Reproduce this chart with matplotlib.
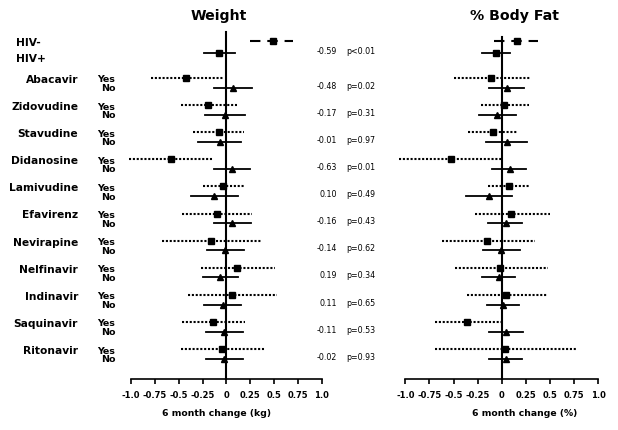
import matplotlib
matplotlib.use("Agg")
import matplotlib.pyplot as plt

# ---------------- data ----------------
drugs = ["Abacavir", "Zidovudine", "Stavudine", "Didanosine", "Lamivudine",
         "Efavirenz", "Nevirapine", "Nelfinavir", "Indinavir", "Saquinavir", "Ritonavir"]

# Weight (kg): HIV- / HIV+ (estimate, low, high)
w_hivneg = (0.49, 0.25, 0.70)
w_hivpos = (-0.08, -0.23, 0.09)
w_yes_est = [-0.42, -0.19, -0.08, -0.58, -0.04, -0.10, -0.16, 0.11, 0.06, -0.14, -0.05]
w_yes_lo = [-0.79, -0.48, -0.35, -1.02, -0.25, -0.46, -0.67, -0.27, -0.40, -0.46, -0.48]
w_yes_hi = [-0.04, 0.11, 0.18, -0.14, 0.18, 0.27, 0.37, 0.51, 0.53, 0.20, 0.41]
w_no_est = [0.07, -0.01, -0.07, 0.06, -0.13, 0.06, -0.01, -0.07, -0.04, -0.02, -0.02]
w_no_lo = [-0.13, -0.22, -0.30, -0.13, -0.37, -0.13, -0.20, -0.25, -0.23, -0.21, -0.21]
w_no_hi = [0.27, 0.20, 0.15, 0.25, 0.12, 0.26, 0.18, 0.12, 0.15, 0.17, 0.17]

# % Body fat
f_hivneg = (0.16, -0.08, 0.37)
f_hivpos = (-0.06, -0.21, 0.09)
f_yes_est = [-0.11, 0.02, -0.09, -0.53, 0.07, 0.10, -0.15, -0.02, 0.04, -0.36, 0.03]
f_yes_lo = [-0.50, -0.22, -0.35, -1.07, -0.14, -0.28, -0.62, -0.49, -0.36, -0.69, -0.69]
f_yes_hi = [0.29, 0.28, 0.17, 0.00, 0.29, 0.50, 0.34, 0.48, 0.47, 0.00, 0.78]
f_no_est = [0.05, -0.05, 0.05, 0.08, -0.13, 0.04, -0.01, -0.03, 0.01, 0.04, 0.04]
f_no_lo = [-0.13, -0.24, -0.16, -0.10, -0.37, -0.14, -0.19, -0.21, -0.15, -0.13, -0.13]
f_no_hi = [0.23, 0.15, 0.26, 0.25, 0.11, 0.21, 0.19, 0.14, 0.18, 0.22, 0.21]

diff_labels = ["-0.59", "-0.48", "-0.17", "-0.01", "-0.63", "0.10", "-0.16",
               "-0.14", "0.19", "0.11", "-0.11", "-0.02"]
p_labels = ["p<0.01", "p=0.02", "p=0.31", "p=0.97", "p=0.01", "p=0.49", "p=0.43",
            "p=0.62", "p=0.34", "p=0.65", "p=0.53", "p=0.93"]

xticks = [-1.0, -0.75, -0.5, -0.25, 0, 0.25, 0.5, 0.75, 1.0]
xtick_labels = ["-1.0", "-0.75", "-0.5", "-0.25", "0", "0.25", "0.5", "0.75", "1.0"]

# ---------------- layout (pixel units) ----------------
W, H = 618, 430
fig = plt.figure(figsize=(W / 100, H / 100), dpi=100)
fig.patch.set_facecolor("white")

Y_BOT = 379
Y_HIVNEG, Y_HIVPOS = 41, 53
Y0, DY, DNO = 78, 27.1, 9.7
y_yes = [Y0 + DY * i for i in range(len(drugs))]
y_no = [y + DNO for y in y_yes]

BOLD = dict(family="DejaVu Sans", fontweight="bold", color="black")


def fig_text(x, y, s, **kw):
    fig.text(x / W, 1 - y / H, s, **kw)


def panel(x_m1, x_p1, y_top, hneg, hpos, ye, yl, yh, ne, nl, nh, title, title_x, xlabel, xlabel_x):
    ax = fig.add_axes([x_m1 / W, 1 - Y_BOT / H, (x_p1 - x_m1) / W, (Y_BOT - y_top) / H])
    ax.set_xlim(-1, 1)
    ax.set_ylim(Y_BOT, y_top)
    ax.patch.set_alpha(0)
    for s in ("top", "right"):
        ax.spines[s].set_visible(False)
    ax.spines["left"].set_position(("data", 0))
    ax.spines["left"].set_linewidth(1.5)
    ax.spines["bottom"].set_linewidth(1.2)
    ax.set_yticks([])
    ax.set_xticks(xticks)
    ax.set_xticklabels(xtick_labels, fontsize=6, fontweight="bold", family="DejaVu Sans")
    ax.tick_params(axis="x", direction="out", length=3.8, width=1.2, pad=5)

    dotted = (0, (1.0, 0.85))
    # HIV rows
    ax.plot([hneg[1], hneg[2]], [Y_HIVNEG] * 2, color="black", lw=1.5,
            linestyle=(0, (5, 3.3)), clip_on=False)
    ax.plot([hneg[0]], [Y_HIVNEG], marker="s", ms=4.3, color="black", clip_on=False)
    ax.plot([hpos[1], hpos[2]], [Y_HIVPOS] * 2, color="black", lw=1.3, clip_on=False)
    ax.plot([hpos[0]], [Y_HIVPOS], marker="s", ms=4.3, color="black", clip_on=False)
    for i in range(len(drugs)):
        ax.plot([yl[i], yh[i]], [y_yes[i]] * 2, color="black", lw=1.5,
                linestyle=dotted, clip_on=False)
        ax.plot([ye[i]], [y_yes[i]], marker="s", ms=4.5, color="black", clip_on=False)
        ax.plot([nl[i], nh[i]], [y_no[i]] * 2, color="black", lw=1.3, clip_on=False)
        ax.plot([ne[i]], [y_no[i]], marker="^", ms=5, color="black", clip_on=False)

    fig_text(title_x, 16, title, fontsize=10.2, ha="center", va="center", **BOLD)
    fig_text(xlabel_x, 414, xlabel, fontsize=6.7, ha="center", va="center", **BOLD)
    return ax


panel(131, 321.7, 32, w_hivneg, w_hivpos, w_yes_est, w_yes_lo, w_yes_hi,
      w_no_est, w_no_lo, w_no_hi, "Weight", 219, "6 month change (kg)", 217)
panel(405.3, 598.3, 37.5, f_hivneg, f_hivpos, f_yes_est, f_yes_lo, f_yes_hi,
      f_no_est, f_no_lo, f_no_hi, "% Body Fat", 514, "6 month change (%)", 525)

# row labels
fig_text(15.7, 43, "HIV-", fontsize=7.7, ha="left", va="center", **BOLD)
fig_text(15.7, 59, "HIV+", fontsize=7.7, ha="left", va="center", **BOLD)
for i, d in enumerate(drugs):
    fig_text(78, y_yes[i] + 2, d, fontsize=7.7, ha="right", va="center", **BOLD)
    fig_text(115.5, y_yes[i] + 2, "Yes", fontsize=6.8, ha="right", va="center", **BOLD)
    fig_text(116, y_no[i] + 1, "No", fontsize=6.8, ha="right", va="center", **BOLD)

# stats column
stat_y = [51.7] + [y - 1.5 for y in y_no]
for yy, dl, pl in zip(stat_y, diff_labels, p_labels):
    fig_text(337, yy, dl, fontsize=5.7, ha="right", va="center", family="DejaVu Sans")
    fig_text(346, yy, pl, fontsize=5.7, ha="left", va="center", family="DejaVu Sans")

fig.savefig("out.png", dpi=100, facecolor="white")
